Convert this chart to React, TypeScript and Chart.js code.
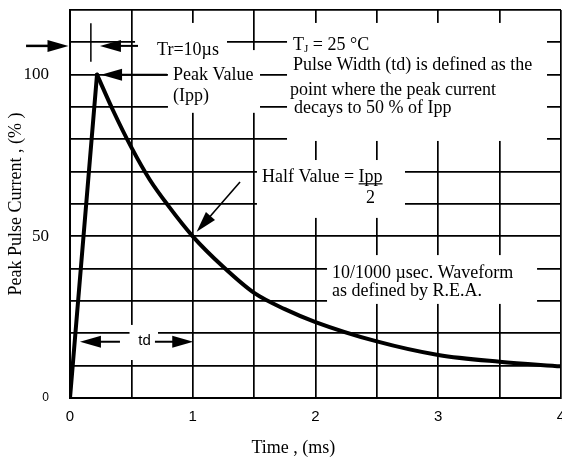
import React, { useEffect, useRef } from 'react';
import { Chart, registerables } from 'chart.js';

Chart.register(...registerables);

// ---- data ----
const riseTimeMs = [0, 0.22];
const riseCurrentPct = [0, 100];
const decayTimeMs = [0.22, 0.35, 0.5, 0.65, 0.8, 1.0, 1.25, 1.5, 1.75, 2.0, 2.5, 3.0, 3.5, 4.0];
const decayCurrentPct = [100, 89, 77.5, 67.5, 59.5, 50, 40.5, 32.5, 27.5, 23.5, 17.5, 13.3, 11.2, 9.8];
const xTickLabels = [0, 1, 2, 3, 4];
const yTickLabels = [0, 50, 100];

const SERIF = "'Liberation Serif', 'Times New Roman', serif";
const SANS = "'Liberation Sans', Arial, sans-serif";
const TEXT_SIZE = 18;

// ---- annotation layout, in data units (ms, %) ----
const whiteBoxes: number[][] = [
  [0.53, 1.279, 103.9, 116],
  [0.798, 1.548, 88.2, 107.6],
  [1.768, 3.886, 79.5, 116],
  [1.523, 2.729, 55.7, 73.6],
  [2.094, 3.805, 29.1, 44.2],
  [0.485, 0.717, 11.75, 22.6],
];

// tailX, tailY, tipX, tipY, shaft width
const arrows: number[][] = [
  [-0.358, 108.9, -0.012, 108.9, 2.5],
  [0.554, 108.9, 0.244, 108.9, 2],
  [0.79, 100, 0.253, 100, 2],
  [1.385, 66.8, 1.032, 51.4, 1.6],
  [0.407, 17.4, 0.081, 17.4, 2],
  [0.692, 17.4, 1.004, 17.4, 2],
];

const markerLines: number[][] = [[0.17, 104, 0.17, 115.9]];

const labels: { t: string; x: number; y: number }[] = [
  { t: 'Tr=10\u00b5s', x: 0.709, y: 107.6 },
  { t: 'Peak Value', x: 0.839, y: 99.9 },
  { t: '(Ipp)', x: 0.839, y: 93.4 },
  { t: 'Pulse Width (td) is defined as the', x: 1.817, y: 103 },
  { t: 'point where the peak current', x: 1.792, y: 95.3 },
  { t: 'decays to 50 % of Ipp', x: 1.825, y: 89.7 },
  { t: '10/1000 \u00b5sec. Waveform', x: 2.134, y: 38.7 },
  { t: 'as defined by R.E.A.', x: 2.134, y: 33.1 },
];

const tjLabel = { x: 1.817, y: 109.2 };
const halfLabel = { x: 1.564, y: 68.4, y2: 61.9 };
const tdLabel = { x: 0.607, y: 17.6 };
const xTitle = { text: 'Time , (ms)', x: 1.82, offset: 50.5 };

function drawArrow(ctx: CanvasRenderingContext2D, x0: number, y0: number, x1: number, y1: number, w: number) {
  const len = 21;
  const half = 6;
  const ang = Math.atan2(y1 - y0, x1 - x0);
  const bx = x1 - len * Math.cos(ang);
  const by = y1 - len * Math.sin(ang);
  ctx.lineWidth = w;
  ctx.beginPath();
  ctx.moveTo(x0, y0);
  ctx.lineTo(bx + 2 * Math.cos(ang), by + 2 * Math.sin(ang));
  ctx.stroke();
  ctx.beginPath();
  ctx.moveTo(x1, y1);
  ctx.lineTo(bx + half * Math.sin(ang), by - half * Math.cos(ang));
  ctx.lineTo(bx - half * Math.sin(ang), by + half * Math.cos(ang));
  ctx.closePath();
  ctx.fill();
}

const annotationPlugin = {
  id: 'pulseAnnotations',
  beforeDatasetsDraw(chart: any) {
    const { ctx } = chart;
    const xs = chart.scales.x;
    const ys = chart.scales.y;
    ctx.save();
    ctx.fillStyle = '#fff';
    whiteBoxes.forEach(([x0, x1, y0, y1]) => {
      const px0 = xs.getPixelForValue(x0);
      const px1 = xs.getPixelForValue(x1);
      const py0 = ys.getPixelForValue(y1);
      const py1 = ys.getPixelForValue(y0);
      ctx.fillRect(px0, py0, px1 - px0, py1 - py0);
    });
    ctx.restore();
  },
  afterDatasetsDraw(chart: any) {
    const { ctx, chartArea } = chart;
    const xs = chart.scales.x;
    const ys = chart.scales.y;
    const X = (v: number) => xs.getPixelForValue(v);
    const Y = (v: number) => ys.getPixelForValue(v);
    ctx.save();
    ctx.strokeStyle = '#000';
    ctx.fillStyle = '#000';
    arrows.forEach(([a, b, c, d, w]) => drawArrow(ctx, X(a), Y(b), X(c), Y(d), w));
    ctx.lineWidth = 1.5;
    markerLines.forEach(([a, b, c, d]) => {
      ctx.beginPath();
      ctx.moveTo(X(a), Y(b));
      ctx.lineTo(X(c), Y(d));
      ctx.stroke();
    });

    ctx.font = `${TEXT_SIZE}px ${SERIF}`;
    ctx.textBaseline = 'middle';
    ctx.textAlign = 'left';
    labels.forEach((l) => ctx.fillText(l.t, X(l.x), Y(l.y)));

    // T_J = 25 °C
    let tx = X(tjLabel.x);
    const ty = Y(tjLabel.y);
    ctx.fillText('T', tx, ty);
    tx += ctx.measureText('T').width;
    ctx.font = `11px ${SERIF}`;
    ctx.fillText('J', tx, ty + 4);
    tx += ctx.measureText('J').width;
    ctx.font = `${TEXT_SIZE}px ${SERIF}`;
    ctx.fillText(' = 25 \u00b0C', tx, ty);

    // Half Value = Ipp / 2
    let hx = X(halfLabel.x);
    const hy = Y(halfLabel.y);
    const pre = 'Half Value = ';
    ctx.fillText(pre, hx, hy);
    hx += ctx.measureText(pre).width;
    const ipw = ctx.measureText('Ipp').width;
    ctx.fillText('Ipp', hx, hy);
    ctx.lineWidth = 1.2;
    ctx.beginPath();
    ctx.moveTo(hx, hy + 7);
    ctx.lineTo(hx + ipw, hy + 7);
    ctx.stroke();
    ctx.textAlign = 'center';
    ctx.fillText('2', hx + ipw / 2, Y(halfLabel.y2));

    // td
    ctx.font = `15px ${SANS}`;
    ctx.fillText('td', X(tdLabel.x), Y(tdLabel.y));

    // x axis title
    ctx.font = `${TEXT_SIZE}px ${SERIF}`;
    ctx.fillText(xTitle.text, X(xTitle.x), chartArea.bottom + xTitle.offset);
    ctx.restore();
  },
};

export default function App() {
  const ref = useRef<HTMLCanvasElement | null>(null);
  useEffect(() => {
    if (!ref.current) return;
    const chart = new Chart(ref.current, {
      type: 'line',
      data: {
        datasets: [
          {
            data: riseTimeMs.map((t, i) => ({ x: t, y: riseCurrentPct[i] })),
            borderColor: '#000',
            borderWidth: 4,
            pointRadius: 0,
            tension: 0,
            borderCapStyle: 'round',
          },
          {
            data: decayTimeMs.map((t, i) => ({ x: t, y: decayCurrentPct[i] })),
            borderColor: '#000',
            borderWidth: 4,
            pointRadius: 0,
            cubicInterpolationMode: 'monotone',
            borderCapStyle: 'round',
          },
        ],
      },
      options: {
        animation: false,
        responsive: false,
        layout: { padding: { left: 0, top: 10, right: 19, bottom: 0 } },
        plugins: { legend: { display: false }, tooltip: { enabled: false } },
        scales: {
          x: {
            type: 'linear',
            min: 0,
            max: 4,
            ticks: {
              stepSize: 0.5,
              autoSkip: false,
              maxRotation: 0,
              padding: 10,
              color: '#000',
              font: { family: SANS, size: 15 },
              callback: (v: any) => (xTickLabels.includes(Number(v)) ? String(v) : ''),
            },
            grid: { color: '#000', lineWidth: 1.7, drawTicks: false },
            border: { color: '#000', width: 2 },
            afterFit: (s: any) => {
              s.height = 61;
              s.paddingLeft = 0;
              s.paddingRight = 0;
            },
          },
          y: {
            type: 'linear',
            min: 0,
            max: 120,
            ticks: {
              stepSize: 10,
              autoSkip: false,
              padding: 21,
              color: '#000',
              font: (c: any) => {
                const v = c.tick ? c.tick.value : null;
                if (v === 0) return { family: SANS, size: 12 };
                if (yTickLabels.includes(v)) return { family: SERIF, size: 17 };
                return { family: SERIF, size: 1 };
              },
              callback: (v: any) => (yTickLabels.includes(Number(v)) ? String(v) : ''),
            },
            grid: { color: '#000', lineWidth: 1.7, drawTicks: false },
            border: { color: '#000', width: 2 },
            title: {
              display: true,
              text: 'Peak Pulse Current , (% )',
              color: '#000',
              font: { family: SERIF, size: 18 },
              padding: { top: 5, bottom: 0 },
            },
            afterFit: (s: any) => {
              s.width = 70;
              s.paddingTop = 0;
              s.paddingBottom = 0;
            },
          },
        },
      } as any,
      plugins: [annotationPlugin],
    });
    return () => chart.destroy();
  }, []);

  return (
    <div style={{ position: 'fixed', left: 0, top: 0, width: 562, height: 459, overflow: 'hidden', background: '#fff' }}>
      <canvas ref={ref} width={580} height={459} style={{ display: 'block' }} />
    </div>
  );
}
